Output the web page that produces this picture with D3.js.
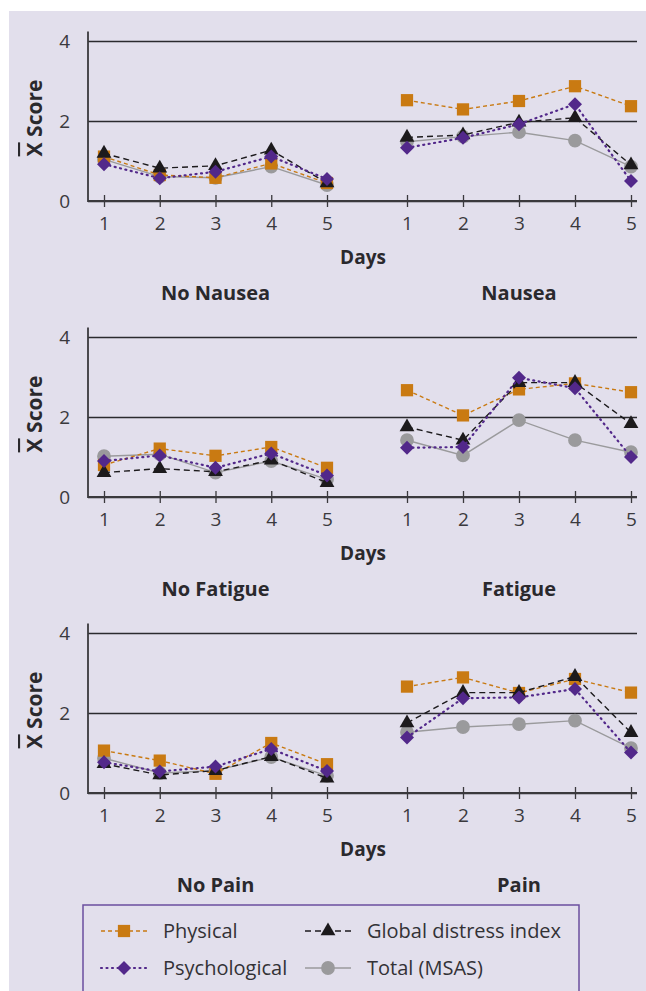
<!DOCTYPE html>
<html>
<head>
<meta charset="utf-8">
<script src="https://cdn.jsdelivr.net/npm/d3@7"></script>
<style>
    body { margin: 0; background: #fff; }
    svg text { font-family: "Open Sans", Lato, sans-serif; }
</style>
</head>
<body>
<svg width="646" height="991"></svg>
<script>
// chart values
let days = [1, 2, 3, 4, 5];
let yTicks = [0, 2, 4];
let groups = ["No Nausea", "Nausea", "No Fatigue", "Fatigue", "No Pain", "Pain"];

let physical = [
    [1.11, 0.65, 0.58, 0.94, 0.45],
    [2.52, 2.29, 2.50, 2.87, 2.37],
    [0.80, 1.21, 1.03, 1.25, 0.73],
    [2.67, 2.04, 2.69, 2.84, 2.62],
    [1.06, 0.81, 0.48, 1.25, 0.72],
    [2.66, 2.89, 2.50, 2.85, 2.51]
];
let psychological = [
    [0.92, 0.57, 0.73, 1.11, 0.55],
    [1.33, 1.58, 1.92, 2.42, 0.50],
    [0.90, 1.04, 0.73, 1.09, 0.54],
    [1.23, 1.25, 2.98, 2.72, 1.00],
    [0.77, 0.54, 0.66, 1.10, 0.55],
    [1.39, 2.37, 2.39, 2.60, 1.01]
];
let globalDistress = [
    [1.19, 0.82, 0.88, 1.27, 0.45],
    [1.59, 1.65, 1.97, 2.08, 0.90],
    [0.61, 0.71, 0.63, 0.92, 0.36],
    [1.75, 1.42, 2.86, 2.86, 1.83],
    [0.73, 0.45, 0.56, 0.91, 0.37],
    [1.75, 2.51, 2.51, 2.91, 1.51]
];
let totalMSAS = [
    [1.04, 0.61, 0.58, 0.86, 0.40],
    [1.48, 1.61, 1.72, 1.51, 0.86],
    [1.02, 1.07, 0.61, 0.90, 0.44],
    [1.42, 1.04, 1.92, 1.42, 1.12],
    [0.87, 0.50, 0.56, 0.90, 0.43],
    [1.52, 1.65, 1.72, 1.81, 1.12]
];

let series = [
    {name: "Total (MSAS)", values: totalMSAS, color: "#9a9a9c", dash: null, width: 1.4, shape: "circle"},
    {name: "Physical", values: physical, color: "#c97a12", dash: "4,3", width: 1.4, shape: "square"},
    {name: "Global distress index", values: globalDistress, color: "#1c1a1c", dash: "6,4", width: 1.4, shape: "triangle"},
    {name: "Psychological", values: psychological, color: "#52288a", dash: "1,4.5", width: 2.2, shape: "diamond"}
];

let svg = d3.select("svg");
svg.append("rect")
    .attr("x", 9).attr("y", 11)
    .attr("width", 637).attr("height", 980)
    .attr("fill", "#e2dfec");

function marker(shape) {
    if (shape === "circle") return d3.symbol(d3.symbolCircle, 150)();
    if (shape === "square") return d3.symbol(d3.symbolSquare, 150)();
    if (shape === "triangle") return d3.symbol(d3.symbolTriangle, 95)();
    return d3.symbol(d3.symbolSquare, 98)();
}
function markerRot(shape) {
    return shape === "diamond" ? " rotate(45)" : "";
}

let rowStep = 296;
let xLeft = d3.scaleLinear().domain([1, 5]).range([104, 327]);
let xRight = d3.scaleLinear().domain([1, 5]).range([407, 631]);

for (let r = 0; r < 3; r++) {
    let off = r * rowStep;
    let y = d3.scaleLinear().domain([0, 4]).range([201 + off, 41 + off]);
    let g = svg.append("g").attr("class", "row");

    // y axis with gridlines
    let ya = g.append("g")
        .attr("transform", "translate(88,0)")
        .call(d3.axisLeft(y).tickValues(yTicks).tickFormat(d3.format("d")).tickSize(-549).tickPadding(18));
    ya.select(".domain").remove();
    ya.selectAll(".tick line").attr("stroke", "#2b2a2e").attr("stroke-width", 1.3);
    ya.selectAll(".tick text").attr("font-size", 19).attr("fill", "#3a393d");
    g.append("line")
        .attr("x1", 88).attr("x2", 88)
        .attr("y1", y(4.24)).attr("y2", y(0) + 1)
        .attr("stroke", "#3a393d").attr("stroke-width", 1.8);
    g.append("line")
        .attr("x1", 88).attr("x2", 637)
        .attr("y1", y(0)).attr("y2", y(0))
        .attr("stroke", "#3a393d").attr("stroke-width", 1.8);

    // x axes
    [xLeft, xRight].forEach(x => {
        let xa = g.append("g")
            .attr("transform", `translate(0,${y(0) - 6})`)
            .call(d3.axisBottom(x).tickValues(days).tickFormat(d3.format("d")).tickSize(12).tickPadding(10));
        xa.select(".domain").remove();
        xa.selectAll(".tick line").attr("stroke", "#3a393d").attr("stroke-width", 1.3);
        xa.selectAll(".tick text").attr("font-size", 19).attr("fill", "#3a393d");
    });

    // y label
    let yl = g.append("text")
        .attr("transform", `translate(42,${118 + off}) rotate(-90)`)
        .attr("text-anchor", "middle")
        .attr("font-size", 21).attr("font-weight", "bold").attr("fill", "#2a292d");
    yl.append("tspan").style("text-decoration", "overline").text("X");
    yl.append("tspan").text(" Score");

    g.append("text")
        .attr("x", 363).attr("y", 264 + off)
        .attr("text-anchor", "middle")
        .attr("font-size", 19).attr("font-weight", "bold").attr("fill", "#2a292d")
        .text("Days");

    [xLeft, xRight].forEach((x, side) => {
        let gi = r * 2 + side;
        g.append("text")
            .attr("x", d3.mean(x.range())).attr("y", 300 + off)
            .attr("text-anchor", "middle")
            .attr("font-size", 20).attr("font-weight", "bold").attr("fill", "#2a292d")
            .text(groups[gi]);

        series.forEach(s => {
            let vals = s.values[gi];
            let line = d3.line().x((d, i) => x(days[i])).y(d => y(d));
            g.append("path")
                .attr("d", line(vals))
                .attr("fill", "none")
                .attr("stroke", s.color)
                .attr("stroke-width", s.width)
                .attr("stroke-dasharray", s.dash)
                .attr("stroke-linecap", s.shape === "diamond" ? "round" : "butt");
            g.append("g").selectAll("path")
                .data(vals)
                .enter().append("path")
                .attr("d", marker(s.shape))
                .attr("transform", (d, i) => `translate(${x(days[i])},${y(d)})` + markerRot(s.shape))
                .attr("fill", s.color);
        });
    });
}

// legend
let legend = svg.append("g");
legend.append("rect")
    .attr("x", 83).attr("y", 905)
    .attr("width", 496).attr("height", 100)
    .attr("fill", "none")
    .attr("stroke", "#6b4f9e").attr("stroke-width", 1.5);

let legendItems = [
    {s: series[1], x: 101, y: 931},
    {s: series[2], x: 305, y: 931},
    {s: series[3], x: 101, y: 968},
    {s: series[0], x: 305, y: 968}
];
legendItems.forEach(it => {
    let s = it.s;
    legend.append("line")
        .attr("x1", it.x).attr("x2", it.x + 46)
        .attr("y1", it.y).attr("y2", it.y)
        .attr("stroke", s.color)
        .attr("stroke-width", s.width)
        .attr("stroke-dasharray", s.dash)
        .attr("stroke-linecap", s.shape === "diamond" ? "round" : "butt");
    legend.append("path")
        .attr("d", marker(s.shape))
        .attr("transform", `translate(${it.x + 23},${it.y})` + markerRot(s.shape))
        .attr("fill", s.color);
    legend.append("text")
        .attr("x", it.x + 62).attr("y", it.y + 7)
        .attr("font-size", 20).attr("fill", "#333236")
        .text(s.name);
});
</script>
</body>
</html>
